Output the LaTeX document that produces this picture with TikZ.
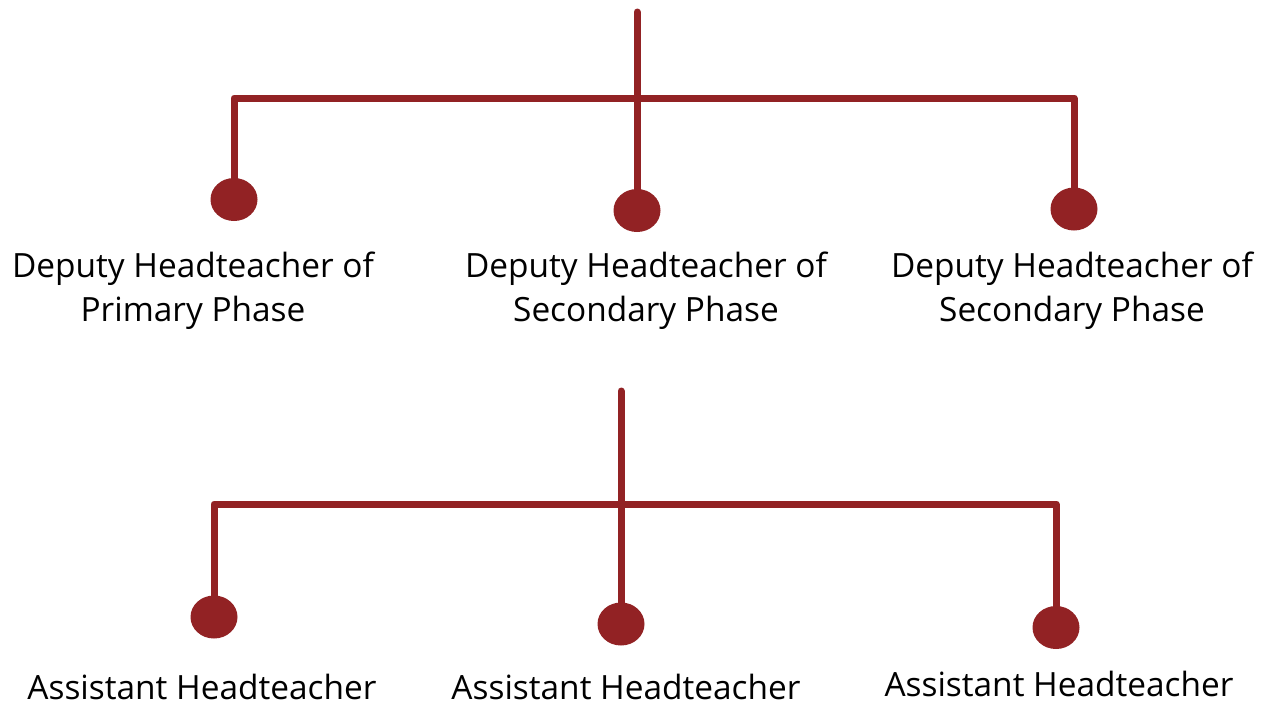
\documentclass[tikz,border=0pt]{standalone}
\usepackage{fontspec}
\setmainfont{Open Sans}
\usetikzlibrary{shapes.geometric,backgrounds}
\definecolor{orgred}{HTML}{922224}

\begin{document}
\begin{tikzpicture}[
      x=1pt, y=-1pt,
      leaf/.style={ellipse,fill=orgred,minimum width=47pt,minimum height=43pt,inner sep=0pt},
      link/.style={draw=orgred,line width=7pt,line cap=round,line join=round},
      role/.style={align=center,anchor=base,inner sep=0pt,font=\fontsize{33.4}{44}\selectfont}
    ]
    \useasboundingbox (0,0) rectangle (1261,705);

    % Deputy level: stem, bar and three leaves
      \coordinate (deptop) at (637,12);
      \coordinate (depbar) at (637,98);
      \node[leaf] (depA) at (234,199.5) {};
      \node[leaf] (depB) at (637,210.5) {};
      \node[leaf] (depC) at (1074,209) {};
      \begin{scope}[on background layer]
        \draw[link] (deptop) -- (depB.center);
        \draw[link] (depA.center) |- (depbar) -| (depC.center);
      \end{scope}

      % two-line labels sit on the baseline of their last line
      \node[role] (depAtext) at (193,321) {Deputy Headteacher of\\Primary Phase};
      \node[role] (depBtext) at (646,321) {Deputy Headteacher of\\Secondary Phase};
      \node[role] (depCtext) at (1072,321) {Deputy Headteacher of\\Secondary Phase};

    % Assistant level: stem, bar and three leaves
      \coordinate (asstop) at (621,391);
      \coordinate (assbar) at (621,504);
      \node[leaf] (assA) at (214,617) {};
      \node[leaf] (assB) at (621,624) {};
      \node[leaf] (assC) at (1056,627.5) {};
      \begin{scope}[on background layer]
        \draw[link] (asstop) -- (assB.center);
        \draw[link] (assA.center) |- (assbar) -| (assC.center);
      \end{scope}

      \node[role] (assAtext) at (202,699) {Assistant Headteacher};
      \node[role] (assBtext) at (626,699) {Assistant Headteacher};
      \node[role] (assCtext) at (1059,696) {Assistant Headteacher};
    \end{tikzpicture}
\end{document}
